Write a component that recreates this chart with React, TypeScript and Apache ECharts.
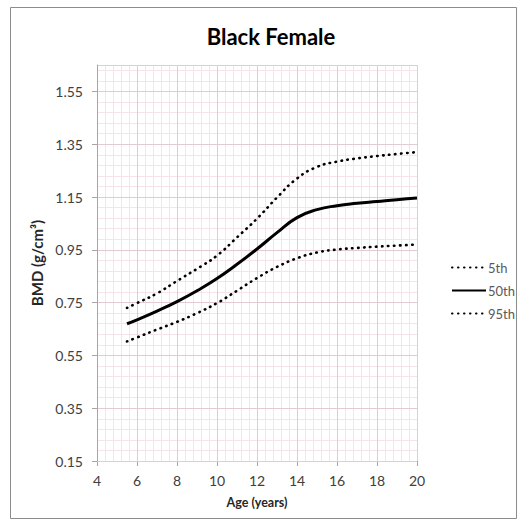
import React, { useEffect, useRef } from "react";
import * as echarts from "echarts";

const ages = [5.5, 6, 7, 8, 9, 10, 11, 12, 13, 14, 15, 16, 17, 18, 19, 20];
const p5 = [0.603, 0.618, 0.648, 0.677, 0.71, 0.748, 0.795, 0.843, 0.885, 0.918, 0.94, 0.951, 0.957, 0.962, 0.966, 0.97];
const p50 = [0.67, 0.685, 0.718, 0.754, 0.795, 0.841, 0.895, 0.953, 1.015, 1.072, 1.102, 1.117, 1.126, 1.133, 1.14, 1.146];
const p95 = [0.73, 0.748, 0.785, 0.832, 0.878, 0.928, 0.997, 1.068, 1.148, 1.22, 1.264, 1.284, 1.296, 1.305, 1.313, 1.32];
const seriesNames = ["5th", "50th", "95th"];

const FONT = "Lato, 'Open Sans', sans-serif";

export default function App() {
  const ref = useRef<HTMLDivElement>(null);
  useEffect(() => {
    if (!ref.current) return;
    const chart = echarts.init(ref.current, null, { renderer: "svg" });
    const toPairs = (vals: number[]) => ages.map((a, i) => [a, vals[i]]);
    const dotted = {
      color: "#000",
      width: 2.6,
      type: [0.5, 5.5] as any,
      cap: "round" as any,
    };
    chart.setOption({
      animation: false,
      backgroundColor: "#fff",
      textStyle: { fontFamily: FONT },
      title: {
        text: "Black Female",
        left: 266,
        top: 20,
        textAlign: "center",
        textStyle: { fontSize: 22, fontWeight: "bold", color: "#000", fontFamily: FONT },
      },
      graphic: [
        {
          type: "rect",
          shape: { x: 10.5, y: 7.5, width: 506, height: 511 },
          style: { fill: "none", stroke: "#8c8c8c", lineWidth: 1 },
          silent: true,
          z: -10,
        },
      ],
      legend: {
        orient: "vertical",
        left: 446,
        top: 256,
        itemWidth: 34,
        itemHeight: 14,
        itemGap: 10,
        data: seriesNames,
        itemStyle: { opacity: 0 },
        textStyle: { fontSize: 13, color: "#595959", fontFamily: FONT, padding: [0, 0, 0, -3] },
      },
      grid: { left: 97, right: 106, top: 65, bottom: 64 },
      xAxis: {
        type: "value",
        min: 4,
        max: 20,
        interval: 2,
        name: "Age (years)",
        nameLocation: "middle",
        nameGap: 35,
        nameTextStyle: { fontSize: 12.5, fontWeight: "bold", color: "#262626", fontFamily: FONT },
        axisLine: { show: true, lineStyle: { color: "#a6a6a6", width: 1 } },
        axisTick: { show: true, length: 5, lineStyle: { color: "#a6a6a6" } },
        axisLabel: { fontSize: 14, color: "#404040", margin: 12, fontFamily: FONT },
        splitLine: { show: true, lineStyle: { color: "#e3cbd2", width: 1 } },
        minorTick: { show: false, splitNumber: 5 },
        minorSplitLine: { show: true, lineStyle: { color: "#f5e4e9", width: 1 } },
      },
      yAxis: [
        {
          type: "value",
          min: 0.15,
          max: 1.65,
          interval: 0.04,
          position: "right",
          axisLine: { show: false },
          axisTick: { show: false },
          axisLabel: { show: false },
          splitLine: { show: true, lineStyle: { color: "#f5e4e9", width: 1 } },
          z: 0,
        },
        {
          type: "value",
          min: 0.15,
          max: 1.65,
          interval: 0.2,
          position: "left",
          name: "BMD (g/cm³)",
          nameLocation: "middle",
          nameGap: 50,
          nameRotate: 90,
          nameTextStyle: { fontSize: 15, fontWeight: "bold", color: "#262626", fontFamily: FONT },
          axisLine: { show: true, lineStyle: { color: "#a6a6a6", width: 1 } },
          axisTick: { show: true, length: 5, lineStyle: { color: "#a6a6a6" } },
          axisLabel: {
            fontSize: 14,
            color: "#404040",
            margin: 14,
            fontFamily: FONT,
            showMaxLabel: false,
            formatter: (v: number) => v.toFixed(2),
          },
          splitLine: { show: true, lineStyle: { color: "#e3cbd2", width: 1 } },
          z: 1,
        },
      ],
      series: [
        {
          name: "5th",
          type: "line",
          yAxisIndex: 1,
          data: toPairs(p5),
          smooth: true,
          symbol: "none",
          lineStyle: dotted,
          itemStyle: { color: "#000" },
        },
        {
          name: "50th",
          type: "line",
          yAxisIndex: 1,
          data: toPairs(p50),
          smooth: true,
          symbol: "none",
          lineStyle: { color: "#000", width: 3 },
          itemStyle: { color: "#000" },
        },
        {
          name: "95th",
          type: "line",
          yAxisIndex: 1,
          data: toPairs(p95),
          smooth: true,
          symbol: "none",
          lineStyle: dotted,
          itemStyle: { color: "#000" },
        },
      ],
    });
    return () => chart.dispose();
  }, []);
  return <div ref={ref} style={{ width: 523, height: 525, position: "absolute", left: 0, top: 0 }} />;
}
